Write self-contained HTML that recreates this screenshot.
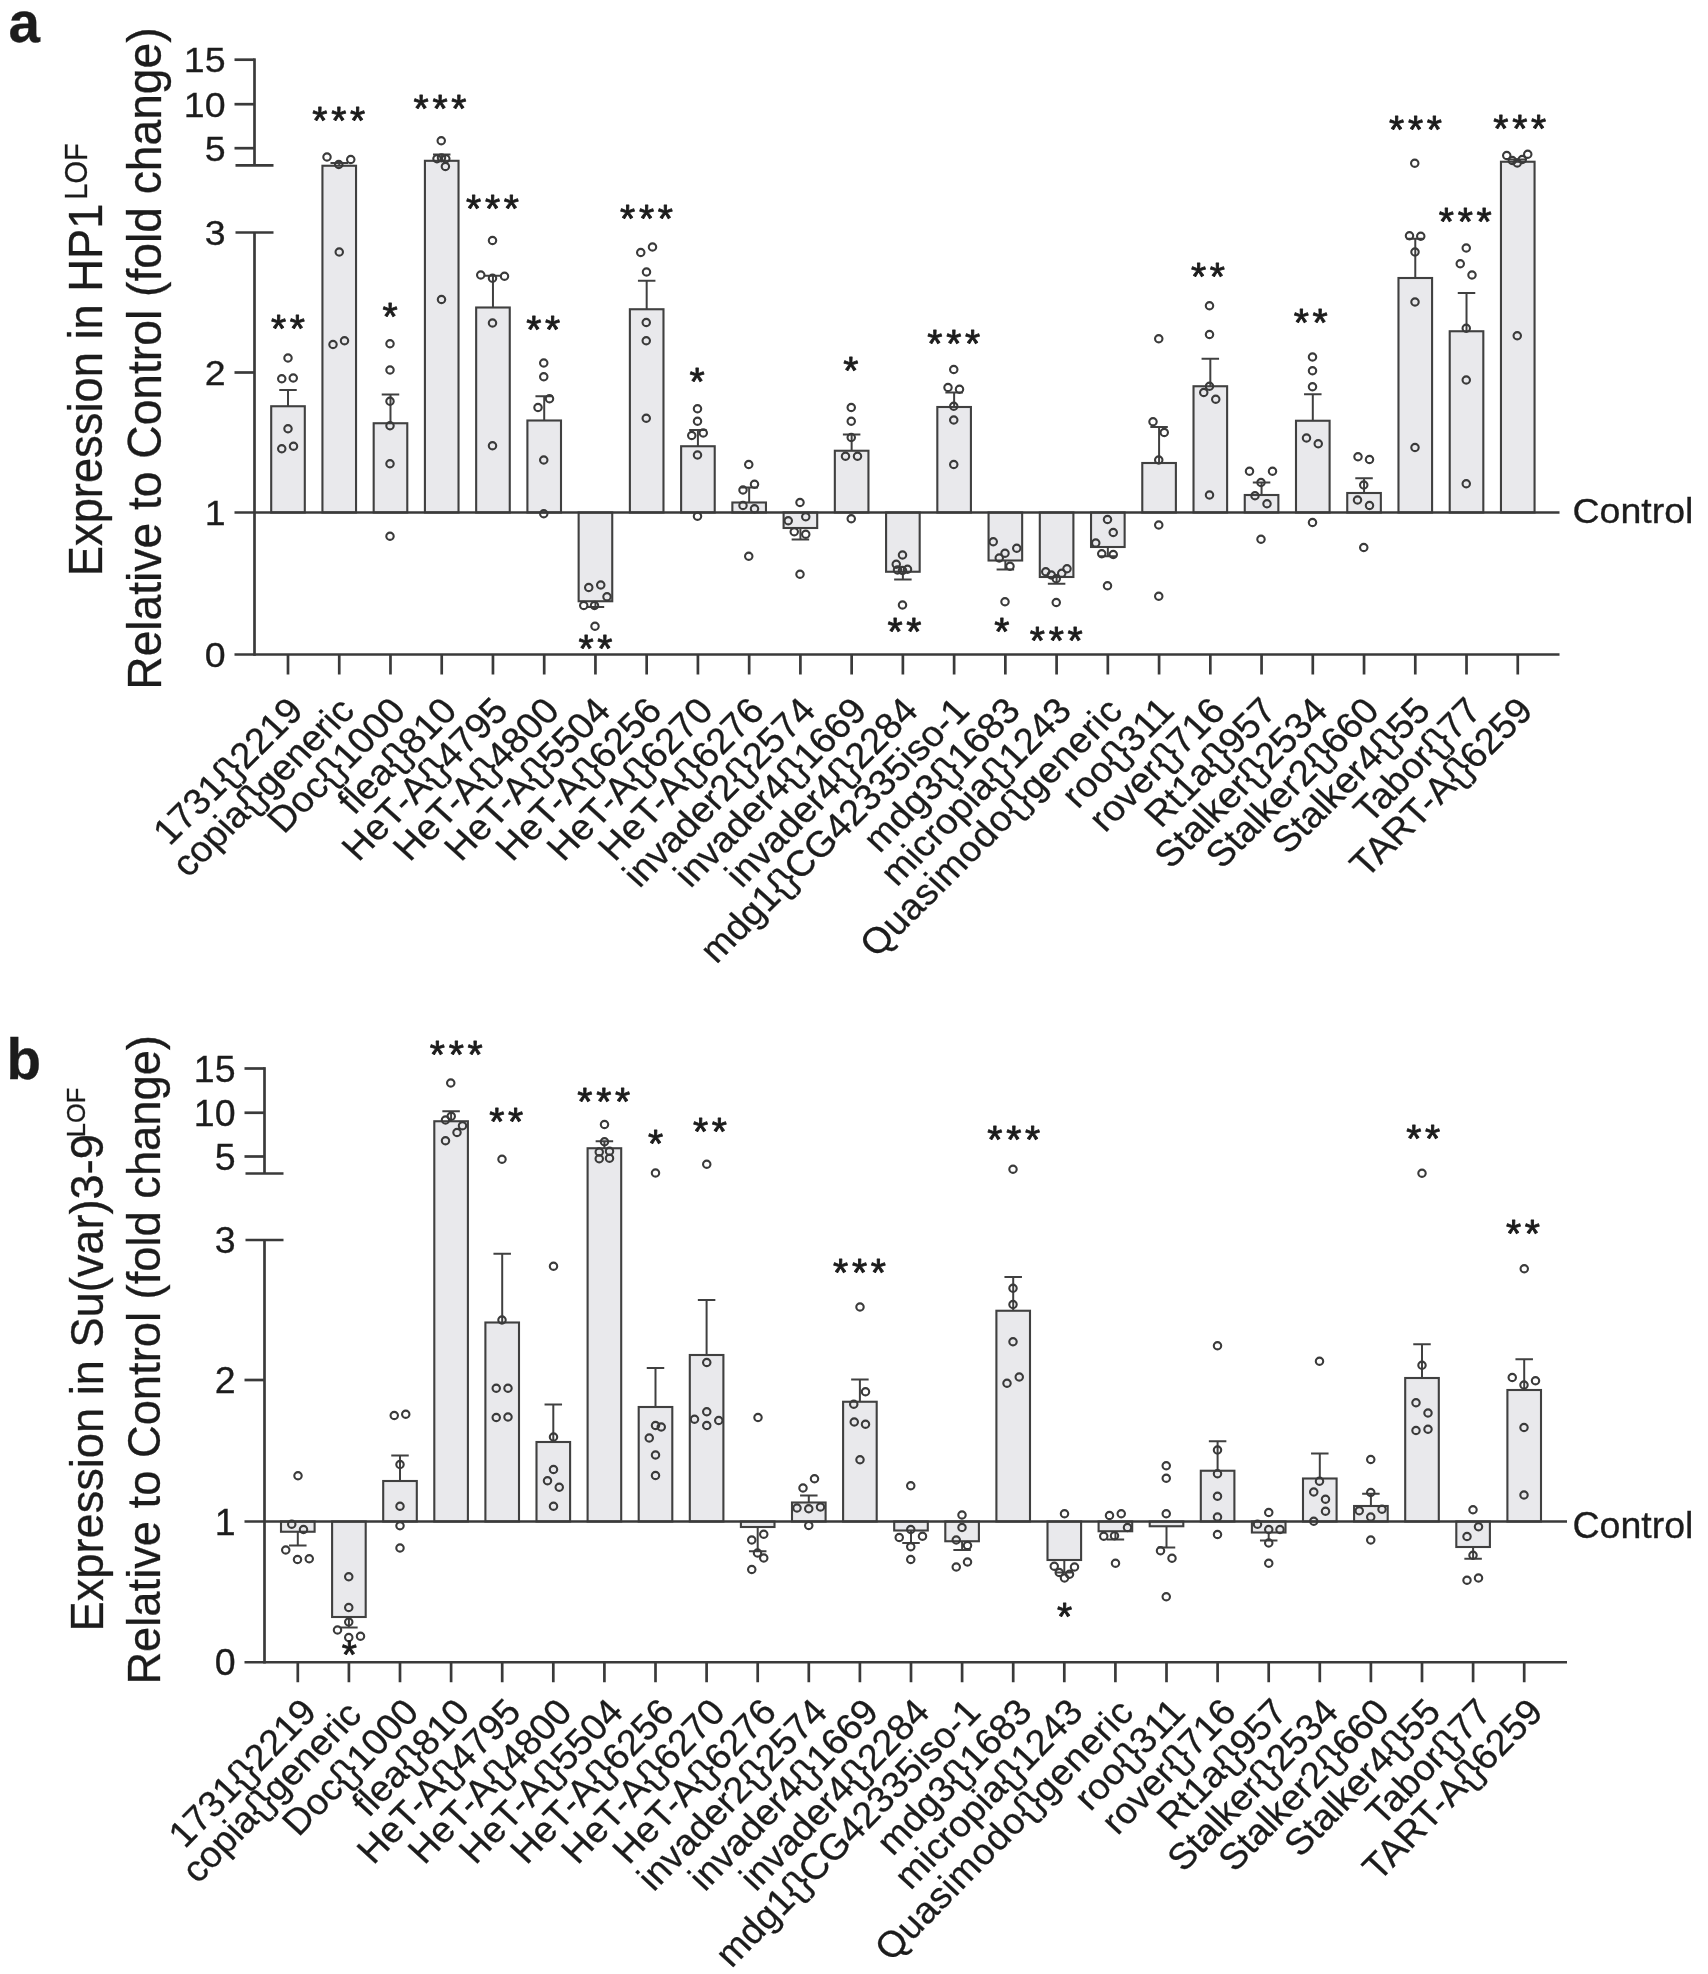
<!DOCTYPE html>
<html lang="en"><head><meta charset="utf-8"><title>Figure</title>
<style>
html,body{margin:0;padding:0;background:#fff}
svg{display:block;filter:blur(0.55px)}
text{font-family:"Liberation Sans",Arial,Helvetica,sans-serif}
</style></head><body>
<svg width="1708" height="1974" viewBox="0 0 1708 1974">
<rect width="1708" height="1974" fill="#ffffff"/>
<g id="panel-a">
<g fill="#e9e9ec" stroke="#404040" stroke-width="2.1"><rect x="271.2" y="406.25" width="33.6" height="106.25"/><rect x="322.44" y="165.75" width="33.6" height="346.75"/><rect x="373.68" y="423.25" width="33.6" height="89.25"/><rect x="424.92" y="160.8" width="33.6" height="351.7"/><rect x="476.16" y="307.5" width="33.6" height="205"/><rect x="527.4" y="420.5" width="33.6" height="92"/><rect x="578.64" y="512.5" width="33.6" height="88.75"/><rect x="629.88" y="309.25" width="33.6" height="203.25"/><rect x="681.12" y="446.25" width="33.6" height="66.25"/><rect x="732.36" y="502.5" width="33.6" height="10"/><rect x="783.6" y="512.5" width="33.6" height="15.5"/><rect x="834.84" y="450.75" width="33.6" height="61.75"/><rect x="886.08" y="512.5" width="33.6" height="59.25"/><rect x="937.32" y="407" width="33.6" height="105.5"/><rect x="988.56" y="512.5" width="33.6" height="48"/><rect x="1039.8" y="512.5" width="33.6" height="64.5"/><rect x="1091.04" y="512.5" width="33.6" height="34.5"/><rect x="1142.28" y="463" width="33.6" height="49.5"/><rect x="1193.52" y="386.25" width="33.6" height="126.25"/><rect x="1244.76" y="495" width="33.6" height="17.5"/><rect x="1296" y="420.75" width="33.6" height="91.75"/><rect x="1347.24" y="493" width="33.6" height="19.5"/><rect x="1398.48" y="278" width="33.6" height="234.5"/><rect x="1449.72" y="331.25" width="33.6" height="181.25"/><rect x="1500.96" y="161.75" width="33.6" height="350.75"/></g>
<g stroke="#404040" stroke-width="2"><line x1="288" y1="406.25" x2="288" y2="390"/><line x1="279.25" y1="390" x2="296.75" y2="390"/><line x1="339.24" y1="165.75" x2="339.24" y2="163"/><line x1="330.49" y1="163" x2="347.99" y2="163"/><line x1="390.48" y1="423.25" x2="390.48" y2="394.5"/><line x1="381.73" y1="394.5" x2="399.23" y2="394.5"/><line x1="441.72" y1="160.8" x2="441.72" y2="154.5"/><line x1="432.97" y1="154.5" x2="450.47" y2="154.5"/><line x1="492.96" y1="307.5" x2="492.96" y2="275.75"/><line x1="484.21" y1="275.75" x2="501.71" y2="275.75"/><line x1="544.2" y1="420.5" x2="544.2" y2="396.25"/><line x1="535.45" y1="396.25" x2="552.95" y2="396.25"/><line x1="595.44" y1="601.25" x2="595.44" y2="607"/><line x1="586.69" y1="607" x2="604.19" y2="607"/><line x1="646.68" y1="309.25" x2="646.68" y2="280.75"/><line x1="637.93" y1="280.75" x2="655.43" y2="280.75"/><line x1="697.92" y1="446.25" x2="697.92" y2="430"/><line x1="689.17" y1="430" x2="706.67" y2="430"/><line x1="749.16" y1="502.5" x2="749.16" y2="487.5"/><line x1="740.41" y1="487.5" x2="757.91" y2="487.5"/><line x1="800.4" y1="528" x2="800.4" y2="539.5"/><line x1="791.65" y1="539.5" x2="809.15" y2="539.5"/><line x1="851.64" y1="450.75" x2="851.64" y2="434.5"/><line x1="842.89" y1="434.5" x2="860.39" y2="434.5"/><line x1="902.88" y1="571.75" x2="902.88" y2="579.5"/><line x1="894.13" y1="579.5" x2="911.63" y2="579.5"/><line x1="954.12" y1="407" x2="954.12" y2="392.5"/><line x1="945.37" y1="392.5" x2="962.87" y2="392.5"/><line x1="1005.36" y1="560.5" x2="1005.36" y2="569.5"/><line x1="996.61" y1="569.5" x2="1014.11" y2="569.5"/><line x1="1056.6" y1="577" x2="1056.6" y2="583.75"/><line x1="1047.85" y1="583.75" x2="1065.35" y2="583.75"/><line x1="1107.84" y1="547" x2="1107.84" y2="556.25"/><line x1="1099.09" y1="556.25" x2="1116.59" y2="556.25"/><line x1="1159.08" y1="463" x2="1159.08" y2="427"/><line x1="1150.33" y1="427" x2="1167.83" y2="427"/><line x1="1210.32" y1="386.25" x2="1210.32" y2="358.75"/><line x1="1201.57" y1="358.75" x2="1219.07" y2="358.75"/><line x1="1261.56" y1="495" x2="1261.56" y2="482.5"/><line x1="1252.81" y1="482.5" x2="1270.31" y2="482.5"/><line x1="1312.8" y1="420.75" x2="1312.8" y2="394.25"/><line x1="1304.05" y1="394.25" x2="1321.55" y2="394.25"/><line x1="1364.04" y1="493" x2="1364.04" y2="478.25"/><line x1="1355.29" y1="478.25" x2="1372.79" y2="478.25"/><line x1="1415.28" y1="278" x2="1415.28" y2="238.75"/><line x1="1406.53" y1="238.75" x2="1424.03" y2="238.75"/><line x1="1466.52" y1="331.25" x2="1466.52" y2="293"/><line x1="1457.77" y1="293" x2="1475.27" y2="293"/><line x1="1517.76" y1="161.75" x2="1517.76" y2="159.5"/><line x1="1509.01" y1="159.5" x2="1526.51" y2="159.5"/></g>
<g stroke="#3a3a3a" stroke-width="2.7"><line x1="234.5" y1="654.5" x2="1559.5" y2="654.5"/><line x1="234.5" y1="512.5" x2="1559.5" y2="512.5"/><line x1="254.5" y1="655.85" x2="254.5" y2="232.5"/><line x1="234.5" y1="372.5" x2="254.5" y2="372.5"/><line x1="235.5" y1="232.5" x2="273.5" y2="232.5"/><line x1="254.5" y1="165.4" x2="254.5" y2="58.35"/><line x1="235.5" y1="165.4" x2="273.5" y2="165.4"/><line x1="234.5" y1="59.7" x2="254.5" y2="59.7"/><line x1="234.5" y1="104.2" x2="254.5" y2="104.2"/><line x1="234.5" y1="148.2" x2="254.5" y2="148.2"/><line x1="288" y1="654.5" x2="288" y2="674.5"/><line x1="339.24" y1="654.5" x2="339.24" y2="674.5"/><line x1="390.48" y1="654.5" x2="390.48" y2="674.5"/><line x1="441.72" y1="654.5" x2="441.72" y2="674.5"/><line x1="492.96" y1="654.5" x2="492.96" y2="674.5"/><line x1="544.2" y1="654.5" x2="544.2" y2="674.5"/><line x1="595.44" y1="654.5" x2="595.44" y2="674.5"/><line x1="646.68" y1="654.5" x2="646.68" y2="674.5"/><line x1="697.92" y1="654.5" x2="697.92" y2="674.5"/><line x1="749.16" y1="654.5" x2="749.16" y2="674.5"/><line x1="800.4" y1="654.5" x2="800.4" y2="674.5"/><line x1="851.64" y1="654.5" x2="851.64" y2="674.5"/><line x1="902.88" y1="654.5" x2="902.88" y2="674.5"/><line x1="954.12" y1="654.5" x2="954.12" y2="674.5"/><line x1="1005.36" y1="654.5" x2="1005.36" y2="674.5"/><line x1="1056.6" y1="654.5" x2="1056.6" y2="674.5"/><line x1="1107.84" y1="654.5" x2="1107.84" y2="674.5"/><line x1="1159.08" y1="654.5" x2="1159.08" y2="674.5"/><line x1="1210.32" y1="654.5" x2="1210.32" y2="674.5"/><line x1="1261.56" y1="654.5" x2="1261.56" y2="674.5"/><line x1="1312.8" y1="654.5" x2="1312.8" y2="674.5"/><line x1="1364.04" y1="654.5" x2="1364.04" y2="674.5"/><line x1="1415.28" y1="654.5" x2="1415.28" y2="674.5"/><line x1="1466.52" y1="654.5" x2="1466.52" y2="674.5"/><line x1="1517.76" y1="654.5" x2="1517.76" y2="674.5"/></g>
<g fill="none" stroke="#3a3a3a" stroke-width="2.1"><ellipse cx="288" cy="358" rx="3.71" ry="3.6"/><ellipse cx="281.75" cy="378.75" rx="3.71" ry="3.6"/><ellipse cx="293.25" cy="378" rx="3.71" ry="3.6"/><ellipse cx="288" cy="428.75" rx="3.71" ry="3.6"/><ellipse cx="281.75" cy="448.75" rx="3.71" ry="3.6"/><ellipse cx="293.5" cy="446.25" rx="3.71" ry="3.6"/><ellipse cx="339.25" cy="252" rx="3.71" ry="3.6"/><ellipse cx="333" cy="344.5" rx="3.71" ry="3.6"/><ellipse cx="344.5" cy="340.75" rx="3.71" ry="3.6"/><ellipse cx="327" cy="157" rx="3.71" ry="3.6"/><ellipse cx="338.75" cy="164.5" rx="3.71" ry="3.6"/><ellipse cx="350.75" cy="159.5" rx="3.71" ry="3.6"/><ellipse cx="390" cy="343.75" rx="3.71" ry="3.6"/><ellipse cx="390" cy="370" rx="3.71" ry="3.6"/><ellipse cx="390" cy="401.25" rx="3.71" ry="3.6"/><ellipse cx="390" cy="425.75" rx="3.71" ry="3.6"/><ellipse cx="390" cy="463.75" rx="3.71" ry="3.6"/><ellipse cx="390" cy="536.25" rx="3.71" ry="3.6"/><ellipse cx="441.25" cy="140.75" rx="3.71" ry="3.6"/><ellipse cx="437" cy="158.8" rx="3.71" ry="3.6"/><ellipse cx="441.5" cy="157.8" rx="3.71" ry="3.6"/><ellipse cx="445.8" cy="158.8" rx="3.71" ry="3.6"/><ellipse cx="445.4" cy="166.5" rx="3.71" ry="3.6"/><ellipse cx="441.5" cy="299.5" rx="3.71" ry="3.6"/><ellipse cx="492.5" cy="240.5" rx="3.71" ry="3.6"/><ellipse cx="480.75" cy="275" rx="3.71" ry="3.6"/><ellipse cx="492.5" cy="278.25" rx="3.71" ry="3.6"/><ellipse cx="504.5" cy="276.25" rx="3.71" ry="3.6"/><ellipse cx="492.5" cy="323" rx="3.71" ry="3.6"/><ellipse cx="492.5" cy="445.75" rx="3.71" ry="3.6"/><ellipse cx="543.75" cy="363" rx="3.71" ry="3.6"/><ellipse cx="543.75" cy="376.75" rx="3.71" ry="3.6"/><ellipse cx="549.5" cy="398.75" rx="3.71" ry="3.6"/><ellipse cx="538" cy="407.5" rx="3.71" ry="3.6"/><ellipse cx="543.75" cy="460" rx="3.71" ry="3.6"/><ellipse cx="543.75" cy="513.75" rx="3.71" ry="3.6"/><ellipse cx="588.75" cy="587.5" rx="3.71" ry="3.6"/><ellipse cx="600.75" cy="585" rx="3.71" ry="3.6"/><ellipse cx="607" cy="596.75" rx="3.71" ry="3.6"/><ellipse cx="583.75" cy="605.5" rx="3.71" ry="3.6"/><ellipse cx="594.5" cy="605.5" rx="3.71" ry="3.6"/><ellipse cx="595" cy="626.25" rx="3.71" ry="3.6"/><ellipse cx="640.75" cy="252.5" rx="3.71" ry="3.6"/><ellipse cx="652.5" cy="247" rx="3.71" ry="3.6"/><ellipse cx="646.5" cy="272" rx="3.71" ry="3.6"/><ellipse cx="646.25" cy="322.5" rx="3.71" ry="3.6"/><ellipse cx="646.25" cy="340.75" rx="3.71" ry="3.6"/><ellipse cx="646.25" cy="418.25" rx="3.71" ry="3.6"/><ellipse cx="697.5" cy="408.75" rx="3.71" ry="3.6"/><ellipse cx="697.5" cy="421.25" rx="3.71" ry="3.6"/><ellipse cx="691.75" cy="435.5" rx="3.71" ry="3.6"/><ellipse cx="703.25" cy="433" rx="3.71" ry="3.6"/><ellipse cx="697.5" cy="455" rx="3.71" ry="3.6"/><ellipse cx="697.5" cy="516.25" rx="3.71" ry="3.6"/><ellipse cx="748.75" cy="464.5" rx="3.71" ry="3.6"/><ellipse cx="754.5" cy="484.25" rx="3.71" ry="3.6"/><ellipse cx="743" cy="490" rx="3.71" ry="3.6"/><ellipse cx="743" cy="505.5" rx="3.71" ry="3.6"/><ellipse cx="754.5" cy="508.75" rx="3.71" ry="3.6"/><ellipse cx="748.75" cy="556.25" rx="3.71" ry="3.6"/><ellipse cx="800" cy="502.5" rx="3.71" ry="3.6"/><ellipse cx="805.75" cy="516.75" rx="3.71" ry="3.6"/><ellipse cx="788.25" cy="520.75" rx="3.71" ry="3.6"/><ellipse cx="794.25" cy="531.75" rx="3.71" ry="3.6"/><ellipse cx="805.75" cy="534.25" rx="3.71" ry="3.6"/><ellipse cx="800" cy="574.25" rx="3.71" ry="3.6"/><ellipse cx="851.25" cy="407.5" rx="3.71" ry="3.6"/><ellipse cx="851.25" cy="421.25" rx="3.71" ry="3.6"/><ellipse cx="851.25" cy="437.5" rx="3.71" ry="3.6"/><ellipse cx="845.5" cy="456.25" rx="3.71" ry="3.6"/><ellipse cx="857.5" cy="456.25" rx="3.71" ry="3.6"/><ellipse cx="851.25" cy="518.75" rx="3.71" ry="3.6"/><ellipse cx="902.5" cy="555" rx="3.71" ry="3.6"/><ellipse cx="896.25" cy="564.25" rx="3.71" ry="3.6"/><ellipse cx="897.5" cy="570" rx="3.71" ry="3.6"/><ellipse cx="907.5" cy="569.25" rx="3.71" ry="3.6"/><ellipse cx="902.5" cy="570.5" rx="3.71" ry="3.6"/><ellipse cx="902.5" cy="605" rx="3.71" ry="3.6"/><ellipse cx="953.75" cy="369.5" rx="3.71" ry="3.6"/><ellipse cx="948" cy="387.5" rx="3.71" ry="3.6"/><ellipse cx="959.5" cy="389.25" rx="3.71" ry="3.6"/><ellipse cx="953.75" cy="406.25" rx="3.71" ry="3.6"/><ellipse cx="953.75" cy="420" rx="3.71" ry="3.6"/><ellipse cx="953.75" cy="464.5" rx="3.71" ry="3.6"/><ellipse cx="993.25" cy="541.75" rx="3.71" ry="3.6"/><ellipse cx="1016.75" cy="548.25" rx="3.71" ry="3.6"/><ellipse cx="1005" cy="553.25" rx="3.71" ry="3.6"/><ellipse cx="999.25" cy="558" rx="3.71" ry="3.6"/><ellipse cx="1010" cy="566.25" rx="3.71" ry="3.6"/><ellipse cx="1005" cy="601.75" rx="3.71" ry="3.6"/><ellipse cx="1045.75" cy="571.75" rx="3.71" ry="3.6"/><ellipse cx="1051.25" cy="575" rx="3.71" ry="3.6"/><ellipse cx="1056.25" cy="578.75" rx="3.71" ry="3.6"/><ellipse cx="1061.75" cy="573.25" rx="3.71" ry="3.6"/><ellipse cx="1067" cy="568.75" rx="3.71" ry="3.6"/><ellipse cx="1056.25" cy="602.5" rx="3.71" ry="3.6"/><ellipse cx="1107.5" cy="519.5" rx="3.71" ry="3.6"/><ellipse cx="1113.25" cy="532.5" rx="3.71" ry="3.6"/><ellipse cx="1095.75" cy="543" rx="3.71" ry="3.6"/><ellipse cx="1101.75" cy="553.75" rx="3.71" ry="3.6"/><ellipse cx="1113.25" cy="554.5" rx="3.71" ry="3.6"/><ellipse cx="1107.5" cy="585.75" rx="3.71" ry="3.6"/><ellipse cx="1158.75" cy="338.75" rx="3.71" ry="3.6"/><ellipse cx="1153" cy="421.75" rx="3.71" ry="3.6"/><ellipse cx="1164.25" cy="432.5" rx="3.71" ry="3.6"/><ellipse cx="1158.75" cy="460" rx="3.71" ry="3.6"/><ellipse cx="1158.75" cy="525" rx="3.71" ry="3.6"/><ellipse cx="1158.75" cy="596.25" rx="3.71" ry="3.6"/><ellipse cx="1209.5" cy="305.75" rx="3.71" ry="3.6"/><ellipse cx="1209.5" cy="334.5" rx="3.71" ry="3.6"/><ellipse cx="1209.5" cy="386.25" rx="3.71" ry="3.6"/><ellipse cx="1203.75" cy="392.5" rx="3.71" ry="3.6"/><ellipse cx="1215.75" cy="399.25" rx="3.71" ry="3.6"/><ellipse cx="1209.5" cy="495" rx="3.71" ry="3.6"/><ellipse cx="1249.5" cy="471.25" rx="3.71" ry="3.6"/><ellipse cx="1272.5" cy="471.25" rx="3.71" ry="3.6"/><ellipse cx="1261" cy="482.5" rx="3.71" ry="3.6"/><ellipse cx="1255" cy="495.75" rx="3.71" ry="3.6"/><ellipse cx="1267" cy="503.75" rx="3.71" ry="3.6"/><ellipse cx="1261" cy="539.25" rx="3.71" ry="3.6"/><ellipse cx="1312.5" cy="357" rx="3.71" ry="3.6"/><ellipse cx="1312.5" cy="370.75" rx="3.71" ry="3.6"/><ellipse cx="1312.5" cy="386.75" rx="3.71" ry="3.6"/><ellipse cx="1306.5" cy="438" rx="3.71" ry="3.6"/><ellipse cx="1318.25" cy="443.75" rx="3.71" ry="3.6"/><ellipse cx="1312.5" cy="522.5" rx="3.71" ry="3.6"/><ellipse cx="1358" cy="456.75" rx="3.71" ry="3.6"/><ellipse cx="1369.5" cy="459.5" rx="3.71" ry="3.6"/><ellipse cx="1363.75" cy="485" rx="3.71" ry="3.6"/><ellipse cx="1357.5" cy="500" rx="3.71" ry="3.6"/><ellipse cx="1369.5" cy="505.5" rx="3.71" ry="3.6"/><ellipse cx="1363.75" cy="547.5" rx="3.71" ry="3.6"/><ellipse cx="1414.75" cy="163.25" rx="3.71" ry="3.6"/><ellipse cx="1409.5" cy="235.75" rx="3.71" ry="3.6"/><ellipse cx="1420.75" cy="236.25" rx="3.71" ry="3.6"/><ellipse cx="1415" cy="252" rx="3.71" ry="3.6"/><ellipse cx="1415" cy="302" rx="3.71" ry="3.6"/><ellipse cx="1415" cy="447.5" rx="3.71" ry="3.6"/><ellipse cx="1466.25" cy="248" rx="3.71" ry="3.6"/><ellipse cx="1460.25" cy="263.75" rx="3.71" ry="3.6"/><ellipse cx="1472" cy="275" rx="3.71" ry="3.6"/><ellipse cx="1466.25" cy="328.25" rx="3.71" ry="3.6"/><ellipse cx="1466.25" cy="380" rx="3.71" ry="3.6"/><ellipse cx="1466.25" cy="483.75" rx="3.71" ry="3.6"/><ellipse cx="1506.75" cy="155.5" rx="3.71" ry="3.6"/><ellipse cx="1512.25" cy="160.5" rx="3.71" ry="3.6"/><ellipse cx="1517.25" cy="163" rx="3.71" ry="3.6"/><ellipse cx="1522.25" cy="159.5" rx="3.71" ry="3.6"/><ellipse cx="1527.75" cy="154.25" rx="3.71" ry="3.6"/><ellipse cx="1517.25" cy="335.75" rx="3.71" ry="3.6"/></g>
<g fill="#1c1c1c" stroke="#1c1c1c" stroke-width="0.3"><text transform="translate(225.5 72.41) scale(1.057 1)" font-size="35.5" text-anchor="end">15</text><text transform="translate(225.5 116.91) scale(1.057 1)" font-size="35.5" text-anchor="end">10</text><text transform="translate(225.5 160.91) scale(1.057 1)" font-size="35.5" text-anchor="end">5</text><text transform="translate(225.5 245.21) scale(1.057 1)" font-size="35.5" text-anchor="end">3</text><text transform="translate(225.5 385.21) scale(1.057 1)" font-size="35.5" text-anchor="end">2</text><text transform="translate(225.5 525.21) scale(1.057 1)" font-size="35.5" text-anchor="end">1</text><text transform="translate(225.5 667.21) scale(1.057 1)" font-size="35.5" text-anchor="end">0</text><text transform="translate(1572.5 523) scale(1.057 1)" font-size="35.5" text-anchor="start">Control</text><text transform="translate(305 712.5) scale(1.057 1) rotate(-46.3)" font-size="36.3" text-anchor="end">1731{}2219</text><text transform="translate(356.24 712.5) scale(1.057 1) rotate(-46.3)" font-size="36.3" text-anchor="end">copia{}generic</text><text transform="translate(407.48 712.5) scale(1.057 1) rotate(-46.3)" font-size="36.3" text-anchor="end">Doc{}1000</text><text transform="translate(458.72 712.5) scale(1.057 1) rotate(-46.3)" font-size="36.3" text-anchor="end">flea{}810</text><text transform="translate(509.96 712.5) scale(1.057 1) rotate(-46.3)" font-size="36.3" text-anchor="end">HeT-A{}4795</text><text transform="translate(561.2 712.5) scale(1.057 1) rotate(-46.3)" font-size="36.3" text-anchor="end">HeT-A{}4800</text><text transform="translate(612.44 712.5) scale(1.057 1) rotate(-46.3)" font-size="36.3" text-anchor="end">HeT-A{}5504</text><text transform="translate(663.68 712.5) scale(1.057 1) rotate(-46.3)" font-size="36.3" text-anchor="end">HeT-A{}6256</text><text transform="translate(714.92 712.5) scale(1.057 1) rotate(-46.3)" font-size="36.3" text-anchor="end">HeT-A{}6270</text><text transform="translate(766.16 712.5) scale(1.057 1) rotate(-46.3)" font-size="36.3" text-anchor="end">HeT-A{}6276</text><text transform="translate(817.4 712.5) scale(1.057 1) rotate(-46.3)" font-size="36.3" text-anchor="end">invader2{}2574</text><text transform="translate(868.64 712.5) scale(1.057 1) rotate(-46.3)" font-size="36.3" text-anchor="end">invader4{}1669</text><text transform="translate(919.88 712.5) scale(1.057 1) rotate(-46.3)" font-size="36.3" text-anchor="end">invader4{}2284</text><text transform="translate(971.12 712.5) scale(1.057 1) rotate(-46.3)" font-size="36.3" text-anchor="end">mdg1{}CG42335iso-1</text><text transform="translate(1022.36 712.5) scale(1.057 1) rotate(-46.3)" font-size="36.3" text-anchor="end">mdg3{}1683</text><text transform="translate(1073.6 712.5) scale(1.057 1) rotate(-46.3)" font-size="36.3" text-anchor="end">micropia{}1243</text><text transform="translate(1124.84 712.5) scale(1.057 1) rotate(-46.3)" font-size="36.3" text-anchor="end" letter-spacing="0.65">Quasimodo{}generic</text><text transform="translate(1176.08 712.5) scale(1.057 1) rotate(-46.3)" font-size="36.3" text-anchor="end">roo{}311</text><text transform="translate(1227.32 712.5) scale(1.057 1) rotate(-46.3)" font-size="36.3" text-anchor="end">rover{}716</text><text transform="translate(1278.56 712.5) scale(1.057 1) rotate(-46.3)" font-size="36.3" text-anchor="end">Rt1a{}957</text><text transform="translate(1329.8 712.5) scale(1.057 1) rotate(-46.3)" font-size="36.3" text-anchor="end">Stalker{}2534</text><text transform="translate(1381.04 712.5) scale(1.057 1) rotate(-46.3)" font-size="36.3" text-anchor="end">Stalker2{}660</text><text transform="translate(1432.28 712.5) scale(1.057 1) rotate(-46.3)" font-size="36.3" text-anchor="end">Stalker4{}55</text><text transform="translate(1483.52 712.5) scale(1.057 1) rotate(-46.3)" font-size="36.3" text-anchor="end">Tabor{}77</text><text transform="translate(1534.76 712.5) scale(1.057 1) rotate(-46.3)" font-size="36.3" text-anchor="end">TART-A{}6259</text><text transform="translate(289.85 341.5) scale(1 1)" font-size="39" text-anchor="middle" letter-spacing="3.7" stroke="#1c1c1c" stroke-width="0.85" stroke-linejoin="round">**</text><text transform="translate(340.6 134) scale(1 1)" font-size="39" text-anchor="middle" letter-spacing="3.7" stroke="#1c1c1c" stroke-width="0.85" stroke-linejoin="round">***</text><text transform="translate(391.85 330.25) scale(1 1)" font-size="39" text-anchor="middle" letter-spacing="3.7" stroke="#1c1c1c" stroke-width="0.85" stroke-linejoin="round">*</text><text transform="translate(441.85 122) scale(1 1)" font-size="39" text-anchor="middle" letter-spacing="3.7" stroke="#1c1c1c" stroke-width="0.85" stroke-linejoin="round">***</text><text transform="translate(494.35 222) scale(1 1)" font-size="39" text-anchor="middle" letter-spacing="3.7" stroke="#1c1c1c" stroke-width="0.85" stroke-linejoin="round">***</text><text transform="translate(545.1 343.25) scale(1 1)" font-size="39" text-anchor="middle" letter-spacing="3.7" stroke="#1c1c1c" stroke-width="0.85" stroke-linejoin="round">**</text><text transform="translate(597.35 662) scale(1 1)" font-size="39" text-anchor="middle" letter-spacing="3.7" stroke="#1c1c1c" stroke-width="0.85" stroke-linejoin="round">**</text><text transform="translate(648.35 232) scale(1 1)" font-size="39" text-anchor="middle" letter-spacing="3.7" stroke="#1c1c1c" stroke-width="0.85" stroke-linejoin="round">***</text><text transform="translate(698.85 394.5) scale(1 1)" font-size="39" text-anchor="middle" letter-spacing="3.7" stroke="#1c1c1c" stroke-width="0.85" stroke-linejoin="round">*</text><text transform="translate(852.6 384) scale(1 1)" font-size="39" text-anchor="middle" letter-spacing="3.7" stroke="#1c1c1c" stroke-width="0.85" stroke-linejoin="round">*</text><text transform="translate(906.35 644.5) scale(1 1)" font-size="39" text-anchor="middle" letter-spacing="3.7" stroke="#1c1c1c" stroke-width="0.85" stroke-linejoin="round">**</text><text transform="translate(955.6 357) scale(1 1)" font-size="39" text-anchor="middle" letter-spacing="3.7" stroke="#1c1c1c" stroke-width="0.85" stroke-linejoin="round">***</text><text transform="translate(1003.6 644.5) scale(1 1)" font-size="39" text-anchor="middle" letter-spacing="3.7" stroke="#1c1c1c" stroke-width="0.85" stroke-linejoin="round">*</text><text transform="translate(1058.1 654) scale(1 1)" font-size="39" text-anchor="middle" letter-spacing="3.7" stroke="#1c1c1c" stroke-width="0.85" stroke-linejoin="round">***</text><text transform="translate(1209.85 289.5) scale(1 1)" font-size="39" text-anchor="middle" letter-spacing="3.7" stroke="#1c1c1c" stroke-width="0.85" stroke-linejoin="round">**</text><text transform="translate(1312.6 335.75) scale(1 1)" font-size="39" text-anchor="middle" letter-spacing="3.7" stroke="#1c1c1c" stroke-width="0.85" stroke-linejoin="round">**</text><text transform="translate(1417.35 143.25) scale(1 1)" font-size="39" text-anchor="middle" letter-spacing="3.7" stroke="#1c1c1c" stroke-width="0.85" stroke-linejoin="round">***</text><text transform="translate(1467.1 234.5) scale(1 1)" font-size="39" text-anchor="middle" letter-spacing="3.7" stroke="#1c1c1c" stroke-width="0.85" stroke-linejoin="round">***</text><text transform="translate(1521.6 142) scale(1 1)" font-size="39" text-anchor="middle" letter-spacing="3.7" stroke="#1c1c1c" stroke-width="0.85" stroke-linejoin="round">***</text><text transform="translate(8.5 42) scale(0.975 1)" font-size="58" text-anchor="start" font-weight="bold">a</text><text transform="translate(102 576.2) scale(1.057 1) rotate(-90)" font-size="45.3" text-anchor="start">Expression in HP1<tspan font-size="29" dx="4" dy="-14.5">LOF</tspan></text><text transform="translate(160.5 689.7) scale(1.057 1) rotate(-90)" font-size="46.2" text-anchor="start">Relative to Control (fold change)</text></g>
</g>
<g id="panel-b">
<g fill="#e9e9ec" stroke="#404040" stroke-width="2.1"><rect x="281" y="1521.5" width="33.6" height="10.25"/><rect x="332.1" y="1521.5" width="33.6" height="95.5"/><rect x="383.2" y="1481" width="33.6" height="40.5"/><rect x="434.3" y="1121.25" width="33.6" height="400.25"/><rect x="485.4" y="1322.5" width="33.6" height="199"/><rect x="536.5" y="1442" width="33.6" height="79.5"/><rect x="587.6" y="1148.25" width="33.6" height="373.25"/><rect x="638.7" y="1407" width="33.6" height="114.5"/><rect x="689.8" y="1355" width="33.6" height="166.5"/><rect x="740.9" y="1521.5" width="33.6" height="5.5"/><rect x="792" y="1502.5" width="33.6" height="19"/><rect x="843.1" y="1401.75" width="33.6" height="119.75"/><rect x="894.2" y="1521.5" width="33.6" height="9"/><rect x="945.3" y="1521.5" width="33.6" height="19.75"/><rect x="996.4" y="1310.75" width="33.6" height="210.75"/><rect x="1047.5" y="1521.5" width="33.6" height="38.5"/><rect x="1098.6" y="1521.5" width="33.6" height="9.75"/><rect x="1149.7" y="1521.5" width="33.6" height="4.75"/><rect x="1200.8" y="1470.75" width="33.6" height="50.75"/><rect x="1251.9" y="1521.5" width="33.6" height="11"/><rect x="1303" y="1478.5" width="33.6" height="43"/><rect x="1354.1" y="1506" width="33.6" height="15.5"/><rect x="1405.2" y="1378" width="33.6" height="143.5"/><rect x="1456.3" y="1521.5" width="33.6" height="25.5"/><rect x="1507.4" y="1390" width="33.6" height="131.5"/></g>
<g stroke="#404040" stroke-width="2"><line x1="297.8" y1="1531.75" x2="297.8" y2="1545.5"/><line x1="289.05" y1="1545.5" x2="306.55" y2="1545.5"/><line x1="348.9" y1="1617" x2="348.9" y2="1627.5"/><line x1="340.15" y1="1627.5" x2="357.65" y2="1627.5"/><line x1="400" y1="1481" x2="400" y2="1455.5"/><line x1="391.25" y1="1455.5" x2="408.75" y2="1455.5"/><line x1="451.1" y1="1121.25" x2="451.1" y2="1111.25"/><line x1="442.35" y1="1111.25" x2="459.85" y2="1111.25"/><line x1="502.2" y1="1322.5" x2="502.2" y2="1253.75"/><line x1="493.45" y1="1253.75" x2="510.95" y2="1253.75"/><line x1="553.3" y1="1442" x2="553.3" y2="1404.5"/><line x1="544.55" y1="1404.5" x2="562.05" y2="1404.5"/><line x1="604.4" y1="1148.25" x2="604.4" y2="1141.25"/><line x1="595.65" y1="1141.25" x2="613.15" y2="1141.25"/><line x1="655.5" y1="1407" x2="655.5" y2="1368"/><line x1="646.75" y1="1368" x2="664.25" y2="1368"/><line x1="706.6" y1="1355" x2="706.6" y2="1300"/><line x1="697.85" y1="1300" x2="715.35" y2="1300"/><line x1="757.7" y1="1527" x2="757.7" y2="1551.25"/><line x1="748.95" y1="1551.25" x2="766.45" y2="1551.25"/><line x1="808.8" y1="1502.5" x2="808.8" y2="1495.5"/><line x1="800.05" y1="1495.5" x2="817.55" y2="1495.5"/><line x1="859.9" y1="1401.75" x2="859.9" y2="1379.5"/><line x1="851.15" y1="1379.5" x2="868.65" y2="1379.5"/><line x1="911" y1="1530.5" x2="911" y2="1543"/><line x1="902.25" y1="1543" x2="919.75" y2="1543"/><line x1="962.1" y1="1541.25" x2="962.1" y2="1550"/><line x1="953.35" y1="1550" x2="970.85" y2="1550"/><line x1="1013.2" y1="1310.75" x2="1013.2" y2="1277"/><line x1="1004.45" y1="1277" x2="1021.95" y2="1277"/><line x1="1064.3" y1="1560" x2="1064.3" y2="1572.5"/><line x1="1055.55" y1="1572.5" x2="1073.05" y2="1572.5"/><line x1="1115.4" y1="1531.25" x2="1115.4" y2="1539.5"/><line x1="1106.65" y1="1539.5" x2="1124.15" y2="1539.5"/><line x1="1166.5" y1="1526.25" x2="1166.5" y2="1547.5"/><line x1="1157.75" y1="1547.5" x2="1175.25" y2="1547.5"/><line x1="1217.6" y1="1470.75" x2="1217.6" y2="1441.25"/><line x1="1208.85" y1="1441.25" x2="1226.35" y2="1441.25"/><line x1="1268.7" y1="1532.5" x2="1268.7" y2="1540.5"/><line x1="1259.95" y1="1540.5" x2="1277.45" y2="1540.5"/><line x1="1319.8" y1="1478.5" x2="1319.8" y2="1453.5"/><line x1="1311.05" y1="1453.5" x2="1328.55" y2="1453.5"/><line x1="1370.9" y1="1506" x2="1370.9" y2="1493.75"/><line x1="1362.15" y1="1493.75" x2="1379.65" y2="1493.75"/><line x1="1422" y1="1378" x2="1422" y2="1344.25"/><line x1="1413.25" y1="1344.25" x2="1430.75" y2="1344.25"/><line x1="1473.1" y1="1547" x2="1473.1" y2="1558.75"/><line x1="1464.35" y1="1558.75" x2="1481.85" y2="1558.75"/><line x1="1524.2" y1="1390" x2="1524.2" y2="1359.25"/><line x1="1515.45" y1="1359.25" x2="1532.95" y2="1359.25"/></g>
<g stroke="#3a3a3a" stroke-width="2.7"><line x1="244.5" y1="1662.25" x2="1567" y2="1662.25"/><line x1="244.5" y1="1521.5" x2="1567" y2="1521.5"/><line x1="264.5" y1="1663.6" x2="264.5" y2="1240"/><line x1="244.5" y1="1380" x2="264.5" y2="1380"/><line x1="245.5" y1="1240" x2="283.5" y2="1240"/><line x1="264.5" y1="1173.5" x2="264.5" y2="1067.15"/><line x1="245.5" y1="1173.5" x2="283.5" y2="1173.5"/><line x1="244.5" y1="1068.5" x2="264.5" y2="1068.5"/><line x1="244.5" y1="1112.75" x2="264.5" y2="1112.75"/><line x1="244.5" y1="1156.5" x2="264.5" y2="1156.5"/><line x1="297.8" y1="1662.25" x2="297.8" y2="1682.25"/><line x1="348.9" y1="1662.25" x2="348.9" y2="1682.25"/><line x1="400" y1="1662.25" x2="400" y2="1682.25"/><line x1="451.1" y1="1662.25" x2="451.1" y2="1682.25"/><line x1="502.2" y1="1662.25" x2="502.2" y2="1682.25"/><line x1="553.3" y1="1662.25" x2="553.3" y2="1682.25"/><line x1="604.4" y1="1662.25" x2="604.4" y2="1682.25"/><line x1="655.5" y1="1662.25" x2="655.5" y2="1682.25"/><line x1="706.6" y1="1662.25" x2="706.6" y2="1682.25"/><line x1="757.7" y1="1662.25" x2="757.7" y2="1682.25"/><line x1="808.8" y1="1662.25" x2="808.8" y2="1682.25"/><line x1="859.9" y1="1662.25" x2="859.9" y2="1682.25"/><line x1="911" y1="1662.25" x2="911" y2="1682.25"/><line x1="962.1" y1="1662.25" x2="962.1" y2="1682.25"/><line x1="1013.2" y1="1662.25" x2="1013.2" y2="1682.25"/><line x1="1064.3" y1="1662.25" x2="1064.3" y2="1682.25"/><line x1="1115.4" y1="1662.25" x2="1115.4" y2="1682.25"/><line x1="1166.5" y1="1662.25" x2="1166.5" y2="1682.25"/><line x1="1217.6" y1="1662.25" x2="1217.6" y2="1682.25"/><line x1="1268.7" y1="1662.25" x2="1268.7" y2="1682.25"/><line x1="1319.8" y1="1662.25" x2="1319.8" y2="1682.25"/><line x1="1370.9" y1="1662.25" x2="1370.9" y2="1682.25"/><line x1="1422" y1="1662.25" x2="1422" y2="1682.25"/><line x1="1473.1" y1="1662.25" x2="1473.1" y2="1682.25"/><line x1="1524.2" y1="1662.25" x2="1524.2" y2="1682.25"/></g>
<g fill="none" stroke="#3a3a3a" stroke-width="2.1"><ellipse cx="298" cy="1475.75" rx="3.71" ry="3.6"/><ellipse cx="291.75" cy="1524.25" rx="3.71" ry="3.6"/><ellipse cx="303.5" cy="1529.5" rx="3.71" ry="3.6"/><ellipse cx="285.75" cy="1550" rx="3.71" ry="3.6"/><ellipse cx="297.5" cy="1559.5" rx="3.71" ry="3.6"/><ellipse cx="309.25" cy="1558.75" rx="3.71" ry="3.6"/><ellipse cx="348.75" cy="1576.75" rx="3.71" ry="3.6"/><ellipse cx="348.75" cy="1607.5" rx="3.71" ry="3.6"/><ellipse cx="348.75" cy="1622" rx="3.71" ry="3.6"/><ellipse cx="337.5" cy="1630" rx="3.71" ry="3.6"/><ellipse cx="348.75" cy="1637.5" rx="3.71" ry="3.6"/><ellipse cx="360.5" cy="1636.25" rx="3.71" ry="3.6"/><ellipse cx="394.25" cy="1415.5" rx="3.71" ry="3.6"/><ellipse cx="405.75" cy="1414.25" rx="3.71" ry="3.6"/><ellipse cx="400" cy="1464.5" rx="3.71" ry="3.6"/><ellipse cx="400" cy="1506.25" rx="3.71" ry="3.6"/><ellipse cx="400" cy="1525.75" rx="3.71" ry="3.6"/><ellipse cx="400" cy="1548" rx="3.71" ry="3.6"/><ellipse cx="450.75" cy="1083" rx="3.71" ry="3.6"/><ellipse cx="445.5" cy="1120" rx="3.71" ry="3.6"/><ellipse cx="451.25" cy="1116.25" rx="3.71" ry="3.6"/><ellipse cx="462.5" cy="1125.75" rx="3.71" ry="3.6"/><ellipse cx="457" cy="1132.5" rx="3.71" ry="3.6"/><ellipse cx="445.5" cy="1140.75" rx="3.71" ry="3.6"/><ellipse cx="502" cy="1159.25" rx="3.71" ry="3.6"/><ellipse cx="496.25" cy="1388.25" rx="3.71" ry="3.6"/><ellipse cx="508" cy="1388.25" rx="3.71" ry="3.6"/><ellipse cx="496.25" cy="1417.5" rx="3.71" ry="3.6"/><ellipse cx="508" cy="1417" rx="3.71" ry="3.6"/><ellipse cx="502" cy="1320" rx="3.71" ry="3.6"/><ellipse cx="553.5" cy="1266.25" rx="3.71" ry="3.6"/><ellipse cx="553.5" cy="1437" rx="3.71" ry="3.6"/><ellipse cx="553.5" cy="1469.5" rx="3.71" ry="3.6"/><ellipse cx="547.5" cy="1480.75" rx="3.71" ry="3.6"/><ellipse cx="559.25" cy="1487.25" rx="3.71" ry="3.6"/><ellipse cx="553.5" cy="1506.25" rx="3.71" ry="3.6"/><ellipse cx="604.5" cy="1124.5" rx="3.71" ry="3.6"/><ellipse cx="604.5" cy="1141.75" rx="3.71" ry="3.6"/><ellipse cx="599.25" cy="1152" rx="3.71" ry="3.6"/><ellipse cx="609.5" cy="1151.25" rx="3.71" ry="3.6"/><ellipse cx="599.25" cy="1158.75" rx="3.71" ry="3.6"/><ellipse cx="609.5" cy="1158.25" rx="3.71" ry="3.6"/><ellipse cx="655.5" cy="1173" rx="3.71" ry="3.6"/><ellipse cx="655.5" cy="1425.5" rx="3.71" ry="3.6"/><ellipse cx="661.25" cy="1427" rx="3.71" ry="3.6"/><ellipse cx="649.25" cy="1438" rx="3.71" ry="3.6"/><ellipse cx="655.5" cy="1455" rx="3.71" ry="3.6"/><ellipse cx="655.5" cy="1475.5" rx="3.71" ry="3.6"/><ellipse cx="706.75" cy="1164.25" rx="3.71" ry="3.6"/><ellipse cx="706.75" cy="1362.5" rx="3.71" ry="3.6"/><ellipse cx="706.75" cy="1411.75" rx="3.71" ry="3.6"/><ellipse cx="694.5" cy="1419.25" rx="3.71" ry="3.6"/><ellipse cx="718.75" cy="1420.5" rx="3.71" ry="3.6"/><ellipse cx="706.75" cy="1425.5" rx="3.71" ry="3.6"/><ellipse cx="758" cy="1417.5" rx="3.71" ry="3.6"/><ellipse cx="763.75" cy="1534.25" rx="3.71" ry="3.6"/><ellipse cx="751.75" cy="1540" rx="3.71" ry="3.6"/><ellipse cx="757.5" cy="1553" rx="3.71" ry="3.6"/><ellipse cx="763.75" cy="1558" rx="3.71" ry="3.6"/><ellipse cx="751.75" cy="1569.5" rx="3.71" ry="3.6"/><ellipse cx="814.5" cy="1478.75" rx="3.71" ry="3.6"/><ellipse cx="803" cy="1488" rx="3.71" ry="3.6"/><ellipse cx="797" cy="1508" rx="3.71" ry="3.6"/><ellipse cx="808.75" cy="1508.75" rx="3.71" ry="3.6"/><ellipse cx="820.5" cy="1507" rx="3.71" ry="3.6"/><ellipse cx="808.75" cy="1525.5" rx="3.71" ry="3.6"/><ellipse cx="860" cy="1307" rx="3.71" ry="3.6"/><ellipse cx="865.5" cy="1391.75" rx="3.71" ry="3.6"/><ellipse cx="853.75" cy="1404.25" rx="3.71" ry="3.6"/><ellipse cx="854.25" cy="1422" rx="3.71" ry="3.6"/><ellipse cx="865.5" cy="1424.25" rx="3.71" ry="3.6"/><ellipse cx="860" cy="1459.75" rx="3.71" ry="3.6"/><ellipse cx="910.75" cy="1485.75" rx="3.71" ry="3.6"/><ellipse cx="910.75" cy="1529.5" rx="3.71" ry="3.6"/><ellipse cx="899.25" cy="1537.5" rx="3.71" ry="3.6"/><ellipse cx="922.5" cy="1536.25" rx="3.71" ry="3.6"/><ellipse cx="910.75" cy="1546.75" rx="3.71" ry="3.6"/><ellipse cx="910.75" cy="1559.5" rx="3.71" ry="3.6"/><ellipse cx="962" cy="1515" rx="3.71" ry="3.6"/><ellipse cx="962" cy="1527.5" rx="3.71" ry="3.6"/><ellipse cx="956.25" cy="1540" rx="3.71" ry="3.6"/><ellipse cx="967.5" cy="1545.5" rx="3.71" ry="3.6"/><ellipse cx="967.5" cy="1562" rx="3.71" ry="3.6"/><ellipse cx="956.25" cy="1567" rx="3.71" ry="3.6"/><ellipse cx="1013" cy="1169.25" rx="3.71" ry="3.6"/><ellipse cx="1013" cy="1288.25" rx="3.71" ry="3.6"/><ellipse cx="1013" cy="1304.5" rx="3.71" ry="3.6"/><ellipse cx="1013" cy="1341.75" rx="3.71" ry="3.6"/><ellipse cx="1019.25" cy="1377" rx="3.71" ry="3.6"/><ellipse cx="1007" cy="1383.25" rx="3.71" ry="3.6"/><ellipse cx="1064.5" cy="1513.75" rx="3.71" ry="3.6"/><ellipse cx="1054.25" cy="1566.25" rx="3.71" ry="3.6"/><ellipse cx="1059.25" cy="1572.5" rx="3.71" ry="3.6"/><ellipse cx="1064.5" cy="1578" rx="3.71" ry="3.6"/><ellipse cx="1069.5" cy="1574.25" rx="3.71" ry="3.6"/><ellipse cx="1074.5" cy="1567" rx="3.71" ry="3.6"/><ellipse cx="1109.5" cy="1515.5" rx="3.71" ry="3.6"/><ellipse cx="1121.25" cy="1513.75" rx="3.71" ry="3.6"/><ellipse cx="1127.5" cy="1527.5" rx="3.71" ry="3.6"/><ellipse cx="1103.75" cy="1536.25" rx="3.71" ry="3.6"/><ellipse cx="1114.5" cy="1535.75" rx="3.71" ry="3.6"/><ellipse cx="1115.5" cy="1563.25" rx="3.71" ry="3.6"/><ellipse cx="1166.25" cy="1465.75" rx="3.71" ry="3.6"/><ellipse cx="1166.25" cy="1478.25" rx="3.71" ry="3.6"/><ellipse cx="1166.25" cy="1513.75" rx="3.71" ry="3.6"/><ellipse cx="1160.5" cy="1550.75" rx="3.71" ry="3.6"/><ellipse cx="1172" cy="1558.25" rx="3.71" ry="3.6"/><ellipse cx="1166.25" cy="1596.75" rx="3.71" ry="3.6"/><ellipse cx="1217.5" cy="1345.75" rx="3.71" ry="3.6"/><ellipse cx="1217.5" cy="1450" rx="3.71" ry="3.6"/><ellipse cx="1217.5" cy="1473.75" rx="3.71" ry="3.6"/><ellipse cx="1217.5" cy="1496.25" rx="3.71" ry="3.6"/><ellipse cx="1217.5" cy="1517" rx="3.71" ry="3.6"/><ellipse cx="1217.5" cy="1534.5" rx="3.71" ry="3.6"/><ellipse cx="1268.75" cy="1512.5" rx="3.71" ry="3.6"/><ellipse cx="1257.5" cy="1524.25" rx="3.71" ry="3.6"/><ellipse cx="1268.75" cy="1529.5" rx="3.71" ry="3.6"/><ellipse cx="1280" cy="1529.5" rx="3.71" ry="3.6"/><ellipse cx="1268.75" cy="1543" rx="3.71" ry="3.6"/><ellipse cx="1268.75" cy="1563.25" rx="3.71" ry="3.6"/><ellipse cx="1319.5" cy="1361.25" rx="3.71" ry="3.6"/><ellipse cx="1319.5" cy="1481.25" rx="3.71" ry="3.6"/><ellipse cx="1313.75" cy="1492" rx="3.71" ry="3.6"/><ellipse cx="1325.5" cy="1499.25" rx="3.71" ry="3.6"/><ellipse cx="1325.5" cy="1511.25" rx="3.71" ry="3.6"/><ellipse cx="1313.75" cy="1521.25" rx="3.71" ry="3.6"/><ellipse cx="1370.75" cy="1459.5" rx="3.71" ry="3.6"/><ellipse cx="1370.75" cy="1492.5" rx="3.71" ry="3.6"/><ellipse cx="1359.25" cy="1510.75" rx="3.71" ry="3.6"/><ellipse cx="1382" cy="1509.25" rx="3.71" ry="3.6"/><ellipse cx="1370.75" cy="1517" rx="3.71" ry="3.6"/><ellipse cx="1370.75" cy="1540" rx="3.71" ry="3.6"/><ellipse cx="1422" cy="1173.25" rx="3.71" ry="3.6"/><ellipse cx="1422" cy="1365.25" rx="3.71" ry="3.6"/><ellipse cx="1416" cy="1402.75" rx="3.71" ry="3.6"/><ellipse cx="1428" cy="1413" rx="3.71" ry="3.6"/><ellipse cx="1416" cy="1430.5" rx="3.71" ry="3.6"/><ellipse cx="1428" cy="1429.25" rx="3.71" ry="3.6"/><ellipse cx="1473" cy="1509.75" rx="3.71" ry="3.6"/><ellipse cx="1478.5" cy="1526.75" rx="3.71" ry="3.6"/><ellipse cx="1467" cy="1536.5" rx="3.71" ry="3.6"/><ellipse cx="1473" cy="1555.25" rx="3.71" ry="3.6"/><ellipse cx="1467" cy="1580.25" rx="3.71" ry="3.6"/><ellipse cx="1478.5" cy="1578" rx="3.71" ry="3.6"/><ellipse cx="1524.25" cy="1268.75" rx="3.71" ry="3.6"/><ellipse cx="1512.25" cy="1377.5" rx="3.71" ry="3.6"/><ellipse cx="1535.5" cy="1380.75" rx="3.71" ry="3.6"/><ellipse cx="1524" cy="1385" rx="3.71" ry="3.6"/><ellipse cx="1524" cy="1427.5" rx="3.71" ry="3.6"/><ellipse cx="1524" cy="1495" rx="3.71" ry="3.6"/></g>
<g fill="#1c1c1c" stroke="#1c1c1c" stroke-width="0.3"><text transform="translate(235.5 1081.53) scale(1.031 1)" font-size="36.4" text-anchor="end">15</text><text transform="translate(235.5 1125.78) scale(1.031 1)" font-size="36.4" text-anchor="end">10</text><text transform="translate(235.5 1169.53) scale(1.031 1)" font-size="36.4" text-anchor="end">5</text><text transform="translate(235.5 1253.03) scale(1.031 1)" font-size="36.4" text-anchor="end">3</text><text transform="translate(235.5 1393.03) scale(1.031 1)" font-size="36.4" text-anchor="end">2</text><text transform="translate(235.5 1534.53) scale(1.031 1)" font-size="36.4" text-anchor="end">1</text><text transform="translate(235.5 1675.28) scale(1.031 1)" font-size="36.4" text-anchor="end">0</text><text transform="translate(1572.5 1537.5) scale(1.031 1)" font-size="36.4" text-anchor="start">Control</text><text transform="translate(318.3 1713.75) scale(1.031 1) rotate(-46.35)" font-size="36.7" text-anchor="end">1731{}2219</text><text transform="translate(363.4 1716.35) scale(1.031 1) rotate(-46.35)" font-size="36.7" text-anchor="end">copia{}generic</text><text transform="translate(420.5 1713.75) scale(1.031 1) rotate(-46.35)" font-size="36.7" text-anchor="end">Doc{}1000</text><text transform="translate(471.6 1713.75) scale(1.031 1) rotate(-46.35)" font-size="36.7" text-anchor="end">flea{}810</text><text transform="translate(522.7 1713.75) scale(1.031 1) rotate(-46.35)" font-size="36.7" text-anchor="end">HeT-A{}4795</text><text transform="translate(573.8 1713.75) scale(1.031 1) rotate(-46.35)" font-size="36.7" text-anchor="end">HeT-A{}4800</text><text transform="translate(624.9 1713.75) scale(1.031 1) rotate(-46.35)" font-size="36.7" text-anchor="end">HeT-A{}5504</text><text transform="translate(676 1713.75) scale(1.031 1) rotate(-46.35)" font-size="36.7" text-anchor="end">HeT-A{}6256</text><text transform="translate(727.1 1713.75) scale(1.031 1) rotate(-46.35)" font-size="36.7" text-anchor="end">HeT-A{}6270</text><text transform="translate(778.2 1713.75) scale(1.031 1) rotate(-46.35)" font-size="36.7" text-anchor="end">HeT-A{}6276</text><text transform="translate(829.3 1713.75) scale(1.031 1) rotate(-46.35)" font-size="36.7" text-anchor="end">invader2{}2574</text><text transform="translate(880.4 1713.75) scale(1.031 1) rotate(-46.35)" font-size="36.7" text-anchor="end">invader4{}1669</text><text transform="translate(931.5 1713.75) scale(1.031 1) rotate(-46.35)" font-size="36.7" text-anchor="end">invader4{}2284</text><text transform="translate(982.6 1713.75) scale(1.031 1) rotate(-46.35)" font-size="36.7" text-anchor="end">mdg1{}CG42335iso-1</text><text transform="translate(1033.7 1713.75) scale(1.031 1) rotate(-46.35)" font-size="36.7" text-anchor="end">mdg3{}1683</text><text transform="translate(1084.8 1713.75) scale(1.031 1) rotate(-46.35)" font-size="36.7" text-anchor="end">micropia{}1243</text><text transform="translate(1135.9 1713.75) scale(1.031 1) rotate(-46.35)" font-size="36.7" text-anchor="end" letter-spacing="0.65">Quasimodo{}generic</text><text transform="translate(1187 1713.75) scale(1.031 1) rotate(-46.35)" font-size="36.7" text-anchor="end">roo{}311</text><text transform="translate(1238.1 1713.75) scale(1.031 1) rotate(-46.35)" font-size="36.7" text-anchor="end">rover{}716</text><text transform="translate(1289.2 1713.75) scale(1.031 1) rotate(-46.35)" font-size="36.7" text-anchor="end">Rt1a{}957</text><text transform="translate(1340.3 1713.75) scale(1.031 1) rotate(-46.35)" font-size="36.7" text-anchor="end">Stalker{}2534</text><text transform="translate(1391.4 1713.75) scale(1.031 1) rotate(-46.35)" font-size="36.7" text-anchor="end">Stalker2{}660</text><text transform="translate(1442.5 1713.75) scale(1.031 1) rotate(-46.35)" font-size="36.7" text-anchor="end">Stalker4{}55</text><text transform="translate(1493.6 1713.75) scale(1.031 1) rotate(-46.35)" font-size="36.7" text-anchor="end">Tabor{}77</text><text transform="translate(1544.7 1713.75) scale(1.031 1) rotate(-46.35)" font-size="36.7" text-anchor="end">TART-A{}6259</text><text transform="translate(351.1 1668.25) scale(1 1)" font-size="39" text-anchor="middle" letter-spacing="3.7" stroke="#1c1c1c" stroke-width="0.85" stroke-linejoin="round">*</text><text transform="translate(458.1 1067.75) scale(1 1)" font-size="39" text-anchor="middle" letter-spacing="3.7" stroke="#1c1c1c" stroke-width="0.85" stroke-linejoin="round">***</text><text transform="translate(508.1 1135.25) scale(1 1)" font-size="39" text-anchor="middle" letter-spacing="3.7" stroke="#1c1c1c" stroke-width="0.85" stroke-linejoin="round">**</text><text transform="translate(605.6 1115.25) scale(1 1)" font-size="39" text-anchor="middle" letter-spacing="3.7" stroke="#1c1c1c" stroke-width="0.85" stroke-linejoin="round">***</text><text transform="translate(657.35 1156.5) scale(1 1)" font-size="39" text-anchor="middle" letter-spacing="3.7" stroke="#1c1c1c" stroke-width="0.85" stroke-linejoin="round">*</text><text transform="translate(711.85 1144.5) scale(1 1)" font-size="39" text-anchor="middle" letter-spacing="3.7" stroke="#1c1c1c" stroke-width="0.85" stroke-linejoin="round">**</text><text transform="translate(861.35 1286.25) scale(1 1)" font-size="39" text-anchor="middle" letter-spacing="3.7" stroke="#1c1c1c" stroke-width="0.85" stroke-linejoin="round">***</text><text transform="translate(1015.6 1153.25) scale(1 1)" font-size="39" text-anchor="middle" letter-spacing="3.7" stroke="#1c1c1c" stroke-width="0.85" stroke-linejoin="round">***</text><text transform="translate(1066.35 1630) scale(1 1)" font-size="39" text-anchor="middle" letter-spacing="3.7" stroke="#1c1c1c" stroke-width="0.85" stroke-linejoin="round">*</text><text transform="translate(1425.1 1152) scale(1 1)" font-size="39" text-anchor="middle" letter-spacing="3.7" stroke="#1c1c1c" stroke-width="0.85" stroke-linejoin="round">**</text><text transform="translate(1524.85 1247) scale(1 1)" font-size="39" text-anchor="middle" letter-spacing="3.7" stroke="#1c1c1c" stroke-width="0.85" stroke-linejoin="round">**</text><text transform="translate(6.5 1079) scale(0.975 1)" font-size="58" text-anchor="start" font-weight="bold">b</text><text transform="translate(102.5 1631.4) scale(1.031 1) rotate(-90)" font-size="45.2" text-anchor="start">Expression in Su(var)3-9<tspan font-size="25.5" dx="-3" dy="-17">LOF</tspan></text><text transform="translate(160 1684.6) scale(1.031 1) rotate(-90)" font-size="45.3" text-anchor="start">Relative to Control (fold change)</text></g>
</g>
</svg>
</body></html>
